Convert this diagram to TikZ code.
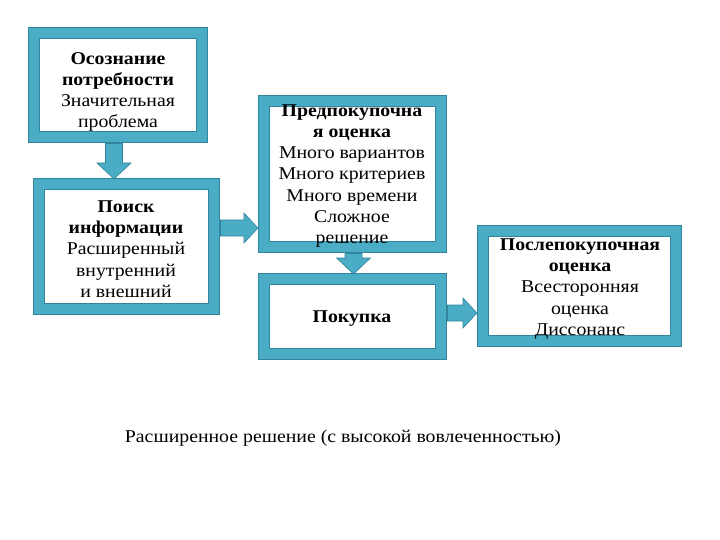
\documentclass[tikz,border=0pt]{standalone}
\usepackage{fontspec}
\setmainfont{Liberation Serif}[FakeStretch=1.1]
\usetikzlibrary{calc}
\definecolor{tealc}{HTML}{4BACC6}
\definecolor{tealdark}{HTML}{31859C}
\tikzset{
  box/.style={draw=tealdark, line width=0.8pt, double=tealc, double distance=10.6pt, fill=white, inner sep=0pt},
  txt/.style={align=center, font=\fontsize{18}{21.3}\selectfont, inner sep=0pt, text=black},
  downblock/.style={fill=tealc, draw=tealdark, line width=0.6pt, to path={
    let \p1=(\tikztostart), \p2=(\tikztotarget) in
    (\x1-8.5pt,\y1) -- (\x1+8.5pt,\y1) -- (\x1+8.5pt,\y2+16pt) -- (\x1+17pt,\y2+16pt)
    -- (\x1,\y2) -- (\x1-17pt,\y2+16pt) -- (\x1-8.5pt,\y2+16pt) -- cycle}},
  rightblock/.style={fill=tealc, draw=tealdark, line width=0.6pt, to path={
    let \p1=(\tikztostart), \p2=(\tikztotarget) in
    (\x1,\y1+8pt) -- (\x2-14pt,\y1+8pt) -- (\x2-14pt,\y1+15pt) -- (\x2,\y1)
    -- (\x2-14pt,\y1-15pt) -- (\x2-14pt,\y1-8pt) -- (\x1,\y1-8pt) -- cycle}}
}
\begin{document}
\begin{tikzpicture}[x=1pt,y=-1pt]
\useasboundingbox (0,0) rectangle (720,540);
% boxes (outer edge sizes minus 12pt of border)
\node[box, minimum width=168pt, minimum height=104pt] (b1) at (118,85) {};
\node[box, minimum width=175pt, minimum height=125pt] (b2) at (126.5,246.5) {};
\node[box, minimum width=177pt, minimum height=146pt] (b3) at (352.5,174) {};
\node[box, minimum width=177pt, minimum height=75pt] (b4) at (352.5,316.5) {};
\node[box, minimum width=193pt, minimum height=110pt] (b5) at (579.5,286) {};
% texts
\node[txt] (t1) at (118,92) {\textbf{Осознание}\\\textbf{потребности}\\Значительная\\проблема};
\node[txt] (t2) at (126,249) {\textbf{Поиск}\\\textbf{информации}\\Расширенный\\внутренний\\и внешний};
\node[txt] (t3) at (352,176) {\textbf{Предпокупочна}\\\textbf{я оценка}\\Много вариантов\\Много критериев\\Много времени\\Сложное\\решение};
\node[txt] (t4) at (352,319) {\textbf{Покупка}};
\node[txt] (t5) at (580,289) {\textbf{Послепокупочная}\\\textbf{оценка}\\Всесторонняя\\оценка\\Диссонанс};
\node[txt] (cap) at (343,438) {Расширенное решение (с высокой вовлеченностью)};
% arrows
\coordinate (a1s) at (114,143.5);
\coordinate (a1e) at (114,179);
\coordinate (a2s) at (220.5,228);
\coordinate (a2e) at (258,228);
\coordinate (a3s) at (353.5,253.5);
\coordinate (a3e) at (353.5,274);
\coordinate (a4s) at (447.5,313);
\coordinate (a4e) at (477,313);
\draw[downblock] (a1s) to (a1e);
\draw[rightblock] (a2s) to (a2e);
\draw[downblock] (a3s) to (a3e);
\draw[rightblock] (a4s) to (a4e);
\end{tikzpicture}
\end{document}
